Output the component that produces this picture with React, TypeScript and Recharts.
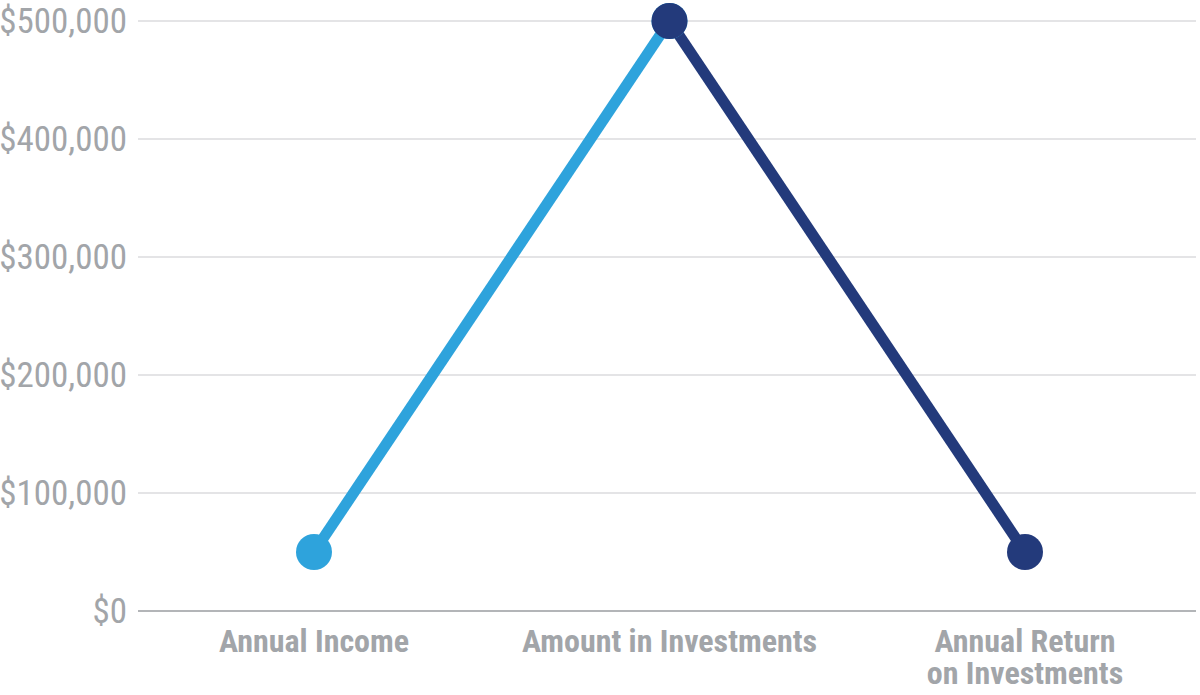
import React from "react";
import {
  LineChart,
  Line,
  XAxis,
  YAxis,
  CartesianGrid,
  ReferenceLine,
} from "recharts";

const categories = ["Annual Income", "Amount in Investments", "Annual Return on Investments"];
const categoryLines = [["Annual Income"], ["Amount in Investments"], ["Annual Return", "on Investments"]];
const incomeSide = [50000, 500000, null];
const returnSide = [null, 500000, 50000];
const yTicks = [0, 100000, 200000, 300000, 400000, 500000];

const data = categories.map((name, i) => ({
  name,
  income: incomeSide[i],
  ret: returnSide[i],
}));

const LIGHT = "#2ea3dc";
const NAVY = "#233a7b";
const GREY = "#a2a5a9";
const FONT = "'Roboto Condensed', 'Liberation Sans Narrow', Roboto, sans-serif";

const fmt = (v: number) => "$" + v.toLocaleString("en-US");

const YTick = (props: any) => {
  const { x, y, payload } = props;
  return (
    <text x={x} y={y} dy={12} textAnchor="end" fill={GREY} fontFamily={FONT} fontSize={35}>
      {fmt(payload.value)}
    </text>
  );
};

// one <text> per category, wrapped lines as tspans
const XTick = (props: any) => {
  const { x, y, index } = props;
  const lines = categoryLines[index] || [props.payload.value];
  return (
    <text
      x={x}
      y={y + 35}
      textAnchor="middle"
      fill={GREY}
      fontFamily={FONT}
      fontWeight={700}
      fontSize={32}
    >
      {lines.map((l: string, i: number) => (
        <tspan key={l} x={x} dy={i === 0 ? 0 : 32}>
          {l}
        </tspan>
      ))}
    </text>
  );
};

const App = () => {
  return (
    <div style={{ width: 1200, height: 695, background: "#fff" }}>
      <style>{"body{margin:0}"}</style>
      <LineChart
        width={1200}
        height={695}
        data={data}
        margin={{ top: 21, right: 4, bottom: 0, left: 0 }}
      >
        <CartesianGrid vertical={false} stroke="#e4e4e6" strokeWidth={2} />
        <XAxis
          dataKey="name"
          height={84}
          axisLine={false}
          tickLine={false}
          padding={{ left: 176, right: 171 }}
          tick={<XTick />}
          interval={0}
          tickMargin={0}
        />
        <YAxis
          width={138}
          domain={[0, 500000]}
          ticks={yTicks}
          axisLine={false}
          tickLine={false}
          tickSize={0}
          tickMargin={11}
          tick={<YTick />}
          interval={0}
        />
        <ReferenceLine y={0} stroke="#b3b5b8" strokeWidth={2} />
        <Line
          dataKey="income"
          stroke={LIGHT}
          strokeWidth={11}
          dot={{ r: 18, fill: LIGHT, stroke: LIGHT, strokeWidth: 0 }}
          activeDot={false}
          connectNulls={false}
          isAnimationActive={false}
        />
        <Line
          dataKey="ret"
          stroke={NAVY}
          strokeWidth={11}
          dot={{ r: 18, fill: NAVY, stroke: NAVY, strokeWidth: 0 }}
          activeDot={false}
          connectNulls={false}
          isAnimationActive={false}
        />
      </LineChart>
    </div>
  );
};

export default App;
